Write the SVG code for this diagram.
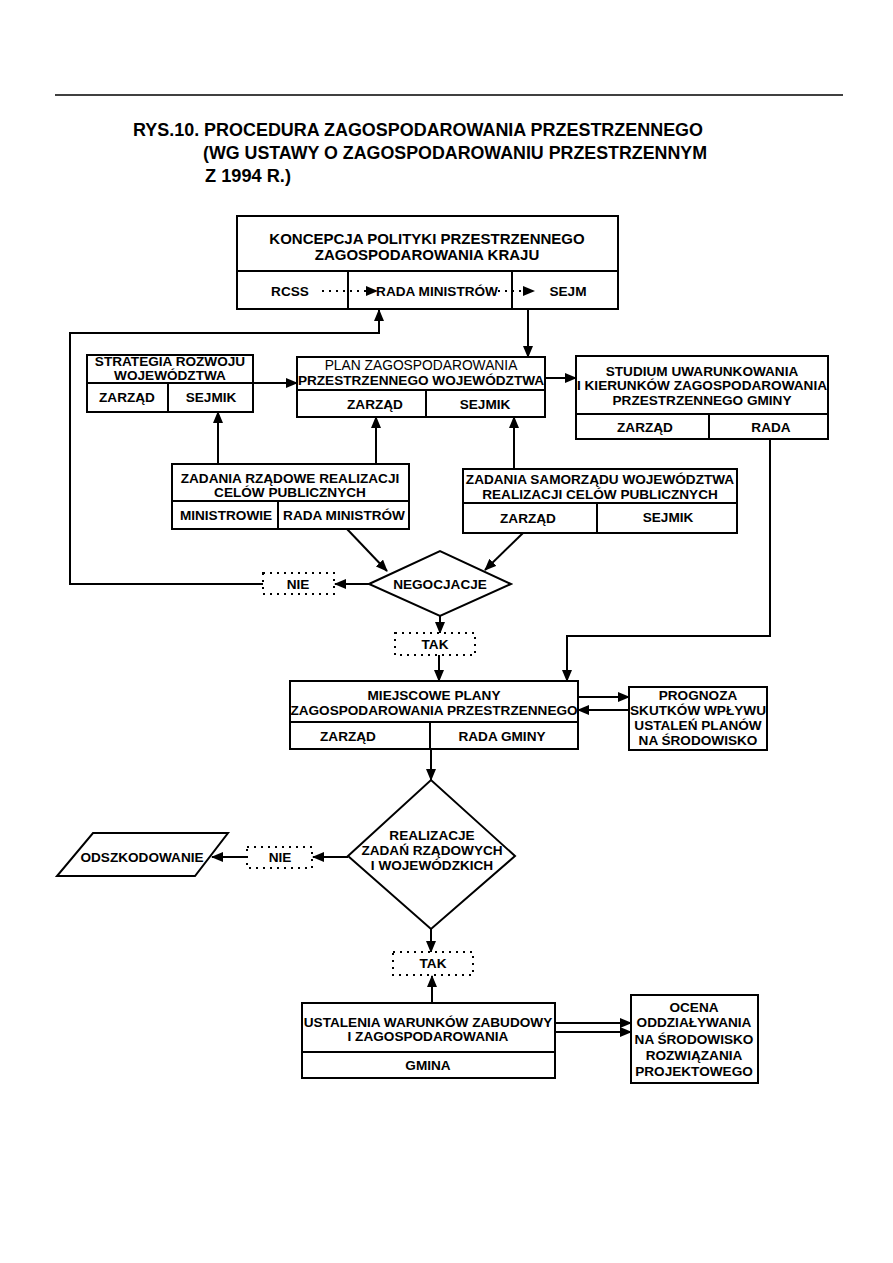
<svg xmlns="http://www.w3.org/2000/svg" width="893" height="1263" viewBox="0 0 893 1263">
<style>
  .box{fill:#fff;stroke:#000;stroke-width:2}
  .ln{fill:none;stroke:#000;stroke-width:2}
  .dot{fill:#fff;stroke:#000;stroke-width:2;stroke-dasharray:2 5}
  .dl{fill:none;stroke:#000;stroke-width:2;stroke-dasharray:2 5}
  .c{stroke:#000;stroke-width:2;fill:none;marker-end:url(#ah)}
  text{font-family:"Liberation Sans",Arial,sans-serif;font-weight:bold;font-size:13.6px;fill:#000;text-anchor:middle}
  .t{font-size:19px;text-anchor:start}
  .k{font-size:15px}
  .n{font-weight:normal;font-size:13.8px}
</style>
<defs>
  <marker id="ah" markerUnits="userSpaceOnUse" markerWidth="12" markerHeight="10" refX="11" refY="5" orient="auto">
    <path d="M0,0 L12,5 L0,10 z" fill="#000"/>
  </marker>
</defs>
<rect width="893" height="1263" fill="#fff"/>
<line x1="55" y1="95" x2="843" y2="95" stroke="#000" stroke-width="1.5"/>
<g id="title">
  <text class="t" x="133" y="136" textLength="570" lengthAdjust="spacingAndGlyphs">RYS.10. PROCEDURA ZAGOSPODAROWANIA PRZESTRZENNEGO</text>
  <text class="t" x="203" y="159" textLength="504" lengthAdjust="spacingAndGlyphs">(WG USTAWY O ZAGOSPODAROWANIU PRZESTRZENNYM</text>
  <text class="t" x="205" y="182" textLength="86" lengthAdjust="spacingAndGlyphs">Z 1994 R.)</text>
</g>

<g id="connectors">
  <polyline class="c" points="263,584 70,584 70,333 379,333 379,310"/>
  <line class="c" x1="528" y1="309" x2="528" y2="357"/>
  <line class="c" x1="253" y1="383" x2="297" y2="383"/>
  <line class="c" x1="545" y1="378" x2="576" y2="378"/>
  <polyline class="c" points="770,439 770,636 567,636 567,681"/>
  <line class="c" x1="218" y1="464" x2="218" y2="412"/>
  <line class="c" x1="376" y1="464" x2="376" y2="417"/>
  <line class="c" x1="514" y1="469" x2="514" y2="417"/>
  <line class="c" x1="347" y1="529" x2="387" y2="571"/>
  <line class="c" x1="523" y1="533" x2="485" y2="570"/>
  <line class="c" x1="369" y1="584" x2="335" y2="584"/>
  <line class="c" x1="440" y1="616" x2="440" y2="633"/>
  <line class="c" x1="439" y1="655" x2="439" y2="681"/>
  <line class="c" x1="578" y1="697" x2="629" y2="697"/>
  <line class="c" x1="629" y1="710" x2="578" y2="710"/>
  <line class="c" x1="431" y1="749" x2="431" y2="780"/>
  <line class="c" x1="348" y1="857" x2="313" y2="857"/>
  <line class="c" x1="247" y1="857" x2="212" y2="857"/>
  <line class="c" x1="431" y1="929" x2="431" y2="952"/>
  <line class="c" x1="432" y1="1003" x2="432" y2="976"/>
  <line class="c" x1="555" y1="1023" x2="631" y2="1023"/>
  <line class="c" x1="555" y1="1032" x2="631" y2="1032"/>
</g>

<g id="koncepcja">
  <rect class="box" x="237" y="216" width="381" height="93"/>
  <line class="ln" x1="237" y1="271" x2="618" y2="271"/>
  <line class="ln" x1="348" y1="271" x2="348" y2="309"/>
  <line class="ln" x1="512" y1="271" x2="512" y2="309"/>
  <text class="k" x="427" y="244">KONCEPCJA POLITYKI PRZESTRZENNEGO</text>
  <text class="k" x="427" y="260">ZAGOSPODAROWANIA KRAJU</text>
  <text x="290" y="296">RCSS</text>
  <text x="437" y="296">RADA MINISTRÓW</text>
  <text x="568" y="296">SEJM</text>
  <line class="dl" x1="322" y1="291" x2="367" y2="291"/>
  <path d="M366,286 L378,291 L366,296 z"/>
  <line class="dl" x1="498" y1="291" x2="524" y2="291"/>
  <path d="M523,286 L535,291 L523,296 z"/>
</g>

<g id="strategia">
  <rect class="box" x="87" y="355" width="166" height="57"/>
  <line class="ln" x1="87" y1="383" x2="253" y2="383"/>
  <line class="ln" x1="168" y1="383" x2="168" y2="412"/>
  <text x="170" y="366">STRATEGIA ROZWOJU</text>
  <text x="170" y="380">WOJEWÓDZTWA</text>
  <text x="127" y="402">ZARZĄD</text>
  <text x="211" y="402">SEJMIK</text>
</g>

<g id="plan">
  <rect class="box" x="297" y="357" width="248" height="60"/>
  <line class="ln" x1="297" y1="390" x2="545" y2="390"/>
  <line class="ln" x1="426" y1="390" x2="426" y2="417"/>
  <text class="n" x="421" y="370">PLAN ZAGOSPODAROWANIA</text>
  <text x="421" y="385">PRZESTRZENNEGO WOJEWÓDZTWA</text>
  <text x="375" y="409">ZARZĄD</text>
  <text x="485" y="409">SEJMIK</text>
</g>

<g id="studium">
  <rect class="box" x="576" y="356" width="252" height="83"/>
  <line class="ln" x1="576" y1="414" x2="828" y2="414"/>
  <line class="ln" x1="709" y1="414" x2="709" y2="439"/>
  <text x="702" y="376">STUDIUM UWARUNKOWANIA</text>
  <text x="702" y="390">I KIERUNKÓW ZAGOSPODAROWANIA</text>
  <text x="702" y="405">PRZESTRZENNEGO GMINY</text>
  <text x="645" y="432">ZARZĄD</text>
  <text x="771" y="432">RADA</text>
</g>

<g id="zadania-rzadowe">
  <rect class="box" x="172" y="464" width="237" height="65"/>
  <line class="ln" x1="172" y1="501" x2="409" y2="501"/>
  <line class="ln" x1="278" y1="501" x2="278" y2="529"/>
  <text x="290" y="483">ZADANIA RZĄDOWE REALIZACJI</text>
  <text x="290" y="497">CELÓW PUBLICZNYCH</text>
  <text x="226" y="520">MINISTROWIE</text>
  <text x="344" y="520">RADA MINISTRÓW</text>
</g>

<g id="zadania-samorzadu">
  <rect class="box" x="463" y="469" width="274" height="64"/>
  <line class="ln" x1="463" y1="503" x2="737" y2="503"/>
  <line class="ln" x1="597" y1="503" x2="597" y2="533"/>
  <text x="600" y="484">ZADANIA SAMORZĄDU WOJEWÓDZTWA</text>
  <text x="600" y="499">REALIZACJI CELÓW PUBLICZNYCH</text>
  <text x="528" y="523">ZARZĄD</text>
  <text x="668" y="522">SEJMIK</text>
</g>

<g id="negocjacje">
  <polygon class="box" points="369,584 440,551 511,584 440,616"/>
  <text x="440" y="589">NEGOCJACJE</text>
</g>

<g id="nie1">
  <rect class="dot" x="263" y="573" width="71" height="21"/>
  <text x="298" y="589">NIE</text>
</g>

<g id="tak1">
  <rect class="dot" x="395" y="633" width="80" height="22"/>
  <text x="435" y="649">TAK</text>
</g>

<g id="miejscowe">
  <rect class="box" x="290" y="681" width="288" height="68"/>
  <line class="ln" x1="290" y1="722" x2="578" y2="722"/>
  <line class="ln" x1="430" y1="722" x2="430" y2="749"/>
  <text x="434" y="700">MIEJSCOWE PLANY</text>
  <text x="434" y="715">ZAGOSPODAROWANIA PRZESTRZENNEGO</text>
  <text x="348" y="741">ZARZĄD</text>
  <text x="502" y="741">RADA GMINY</text>
</g>

<g id="prognoza">
  <rect class="box" x="629" y="687" width="138" height="63"/>
  <text x="698" y="700">PROGNOZA</text>
  <text x="698" y="715">SKUTKÓW WPŁYWU</text>
  <text x="698" y="730">USTALEŃ PLANÓW</text>
  <text x="698" y="745">NA ŚRODOWISKO</text>
</g>

<g id="realizacje">
  <polygon class="box" points="348,856 431,780 515,856 431,929"/>
  <text x="432" y="840">REALIZACJE</text>
  <text x="432" y="855">ZADAŃ RZĄDOWYCH</text>
  <text x="432" y="870">I WOJEWÓDZKICH</text>
</g>

<g id="nie2">
  <rect class="dot" x="247" y="847" width="65" height="21"/>
  <text x="280" y="862">NIE</text>
</g>

<g id="odszkodowanie">
  <polygon class="box" points="93,833 228,833 195,876 57,876"/>
  <text x="142" y="862">ODSZKODOWANIE</text>
</g>

<g id="tak2">
  <rect class="dot" x="393" y="952" width="80" height="23"/>
  <text x="433" y="968">TAK</text>
</g>

<g id="ustalenia">
  <rect class="box" x="302" y="1003" width="253" height="75"/>
  <line class="ln" x1="302" y1="1052" x2="555" y2="1052"/>
  <text x="428" y="1027">USTALENIA WARUNKÓW ZABUDOWY</text>
  <text x="428" y="1041">I ZAGOSPODAROWANIA</text>
  <text x="428" y="1070">GMINA</text>
</g>

<g id="ocena">
  <rect class="box" x="631" y="995" width="127" height="88"/>
  <text x="694" y="1012">OCENA</text>
  <text x="694" y="1027">ODDZIAŁYWANIA</text>
  <text x="694" y="1044">NA ŚRODOWISKO</text>
  <text x="694" y="1060">ROZWIĄZANIA</text>
  <text x="694" y="1076">PROJEKTOWEGO</text>
</g>
</svg>
